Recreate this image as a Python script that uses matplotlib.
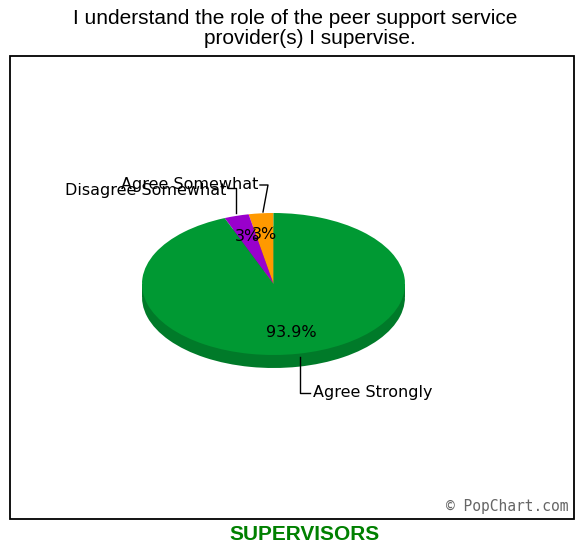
import matplotlib.pyplot as plt
import matplotlib.patches as mpatches

plt.rcParams['font.family'] = ['Liberation Sans', 'DejaVu Sans']

# survey answers (counter-clockwise from 12 o'clock)
labels = ["Agree Somewhat", "Disagree Somewhat", "Agree Strongly"]
counts = [1, 1, 31]
colors = ["#FF9900", "#9900CC", "#009933"]
side_colors = ["#CC7A00", "#7A00A3", "#007A29"]

title_lines = ["I understand the role of the peer support service",
               "provider(s) I supervise."]
footer = "SUPERVISORS"

W, H = 575, 544
fig = plt.figure(figsize=(W / 100, H / 100), dpi=100)

# chart frame
fig.patches.append(mpatches.Rectangle((10 / W, 1 - 519 / H), 564 / W, 463 / H,
                                      transform=fig.transFigure, fill=False,
                                      edgecolor="black", lw=1.3))

fig.text(295 / W, 1 - 19 / H, title_lines[0], ha="center", va="center", fontsize=15)
fig.text(310 / W, 1 - 38 / H, title_lines[1], ha="center", va="center", fontsize=15)
fig.text(305 / W, 1 - 535 / H, footer, ha="center", va="center", fontsize=15,
         fontweight="bold", color="#008000")
fig.text(568 / W, 1 - 506 / H, "\u00a9 PopChart.com", ha="right", va="center",
         fontsize=10.5, color="#666666", family="DejaVu Sans Mono")

# pie axes: ellipse with rx=131.5 px, ry=71 px, centre at (273.5, 284)
cx, cy, rx, ry = 273.5, 284.0, 131.5, 71.0
aw, ah = 2.5 * rx, 2.5 * ry
ax = fig.add_axes([(cx - aw / 2) / W, (H - cy - ah / 2) / H, aw / W, ah / H])

depth = 13 / ry

def px(x, y):
    return (x - cx) / rx, (cy - y) / ry

# side of the disc
ax.pie(counts, colors=side_colors, startangle=90, counterclock=True,
       center=(0, -depth), radius=1, wedgeprops=dict(lw=0))
ax.add_patch(mpatches.Rectangle((-1, -depth), 2, depth, color=side_colors[2], lw=0))

# top face
wedges, _, autotexts = ax.pie(
    counts, colors=colors, startangle=90, counterclock=True, radius=1,
    autopct=lambda p: f"{p:.1f}%" if p > 10 else f"{p:.0f}%",
    pctdistance=0.7, wedgeprops=dict(lw=0),
    textprops=dict(fontsize=11.5, family="DejaVu Sans", color="black"))

ax.set_aspect("auto")
ax.set_xlim(-1.25, 1.25)
ax.set_ylim(-1.25, 1.25)
ax.axis("off")

# leader lines and outside labels
lk = dict(color="black", lw=1, clip_on=False)
tk = dict(fontsize=11.5, family="DejaVu Sans", va="center", clip_on=False)

xs, ys = zip(px(300, 357), px(300, 393), px(310, 393))
ax.plot(xs, ys, **lk)
ax.text(*px(313, 393), labels[2], ha="left", **tk)

xs, ys = zip(px(263, 212), px(268, 185), px(260, 185))
ax.plot(xs, ys, **lk)
ax.text(*px(258, 184), labels[0], ha="right", **tk)

xs, ys = zip(px(236, 213), px(236, 188), px(228, 188))
ax.plot(xs, ys, **lk)
ax.text(*px(226, 190), labels[1], ha="right", **tk)

fig.savefig("out.png", dpi=100)
